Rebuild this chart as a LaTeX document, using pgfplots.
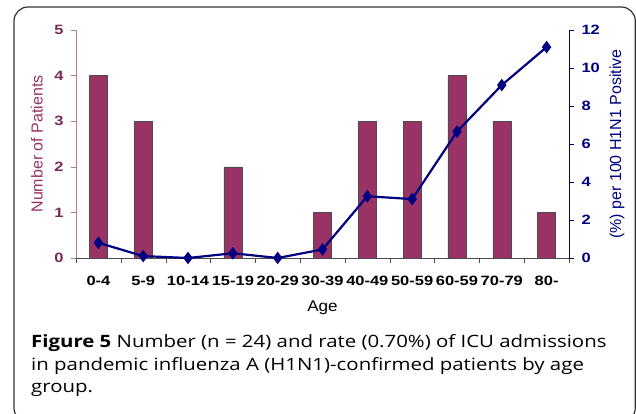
\documentclass[border=0pt]{standalone}
\usepackage{fontspec}
\setmainfont{Liberation Sans}
\newfontfamily\tickfont[FakeStretch=1.22]{Liberation Sans}
\newfontfamily\agefont[FakeStretch=1.1]{Liberation Sans}
\newfontfamily\capfont[FakeStretch=1.2]{Open Sans}
\usepackage{pgfplots}
\pgfplotsset{compat=1.18}
\definecolor{barcol}{HTML}{993366}
\definecolor{navyc}{HTML}{000080}
\definecolor{pinkax}{HTML}{B07A98}
\definecolor{labmar}{HTML}{7A2A55}
\begin{document}
\begin{tikzpicture}
\useasboundingbox (0,0) rectangle (636pt,414pt);
\fill[white] (0,0) rectangle (636pt,414pt);
\draw[line width=1.2pt, black!80, rounded corners=14pt] (14pt,-8pt) rectangle (635.3pt,407pt);
\begin{axis}[
  at={(76pt,156pt)}, anchor=south west, scale only axis,
  width=493pt, height=228pt,
  xmin=-0.5, xmax=10.5, ymin=0, ymax=5,
  axis y line*=left, axis x line*=bottom,
  xtick={0,...,10},
  xticklabels={0-4,5-9,10-14,15-19,20-29,30-39,40-49,50-59,60-59,70-79,80-},
  xtick style={draw=none},
  ytick={0,...,5},
  tick align=outside, major tick length=5pt,
  y axis line style={pinkax}, ytick style={pinkax},
  x axis line style={black!70},
  /pgf/number format/assume math mode=true,
  tick label style={font=\tickfont\fontsize{13.5}{13.5}\selectfont\bfseries},
  yticklabel style={labmar, xshift=-4pt},
  xticklabel style={black, yshift=-10pt},
  ylabel={Number of Patients},
  ylabel style={at={(axis description cs:-0.0791,0.5)}, anchor=center, barcol, font=\fontsize{16}{16}\selectfont},
  xlabel={Age},
  xlabel style={at={(axis description cs:0.5,-0.217)}, anchor=center, black, font=\agefont\fontsize{15.5}{15.5}\selectfont},
]
\addplot[ybar, bar width=18pt, fill=barcol, draw=black!70, line width=0.5pt] coordinates {
(0,4) (1,3) (2,0) (3,2) (4,0) (5,1) (6,3) (7,3) (8,4) (9,3) (10,1)};
\end{axis}
\begin{axis}[
  at={(76pt,156pt)}, anchor=south west, scale only axis,
  width=493pt, height=228pt,
  xmin=-0.5, xmax=10.5, ymin=0, ymax=12,
  axis y line*=right, axis x line*=bottom,
  xtick={-0.5,0.5,...,10.5}, xticklabels={},
  ytick={0,2,...,12},
  tick align=outside, major tick length=5pt,
  y axis line style={navyc}, ytick style={navyc},
  x axis line style={black!70}, xtick style={black!70},
  /pgf/number format/assume math mode=true,
  tick label style={font=\tickfont\fontsize{13.5}{13.5}\selectfont\bfseries},
  yticklabel style={navyc, xshift=4pt},
  ylabel={(\%) per 100 H1N1 Positive},
  ylabel style={at={(axis description cs:1.0974,0.5)}, anchor=center, navyc, font=\fontsize{16}{16}\selectfont},
  clip=false,
]
\addplot[navyc, line width=2.2pt, mark=diamond*, mark size=4.5pt, mark options={solid, fill=navyc}] coordinates {
(0,0.8) (1,0.1) (2,0) (3,0.25) (4,0) (5,0.45) (6,3.25) (7,3.1) (8,6.65) (9,9.1) (10,11.1)};
\end{axis}
\capfont
\node[anchor=base west, inner sep=0pt, font=\fontsize{17}{17}\selectfont] at (31pt,66.3pt) {\textbf{Figure 5} Number (n = 24) and rate (0.70\%) of ICU admissions};
\node[anchor=base west, inner sep=0pt, font=\fontsize{17}{17}\selectfont] at (31pt,43.8pt) {in pandemic influenza A (H1N1)-confirmed patients by age};
\node[anchor=base west, inner sep=0pt, font=\fontsize{17}{17}\selectfont] at (31pt,21.3pt) {group.};
\end{tikzpicture}
\end{document}
